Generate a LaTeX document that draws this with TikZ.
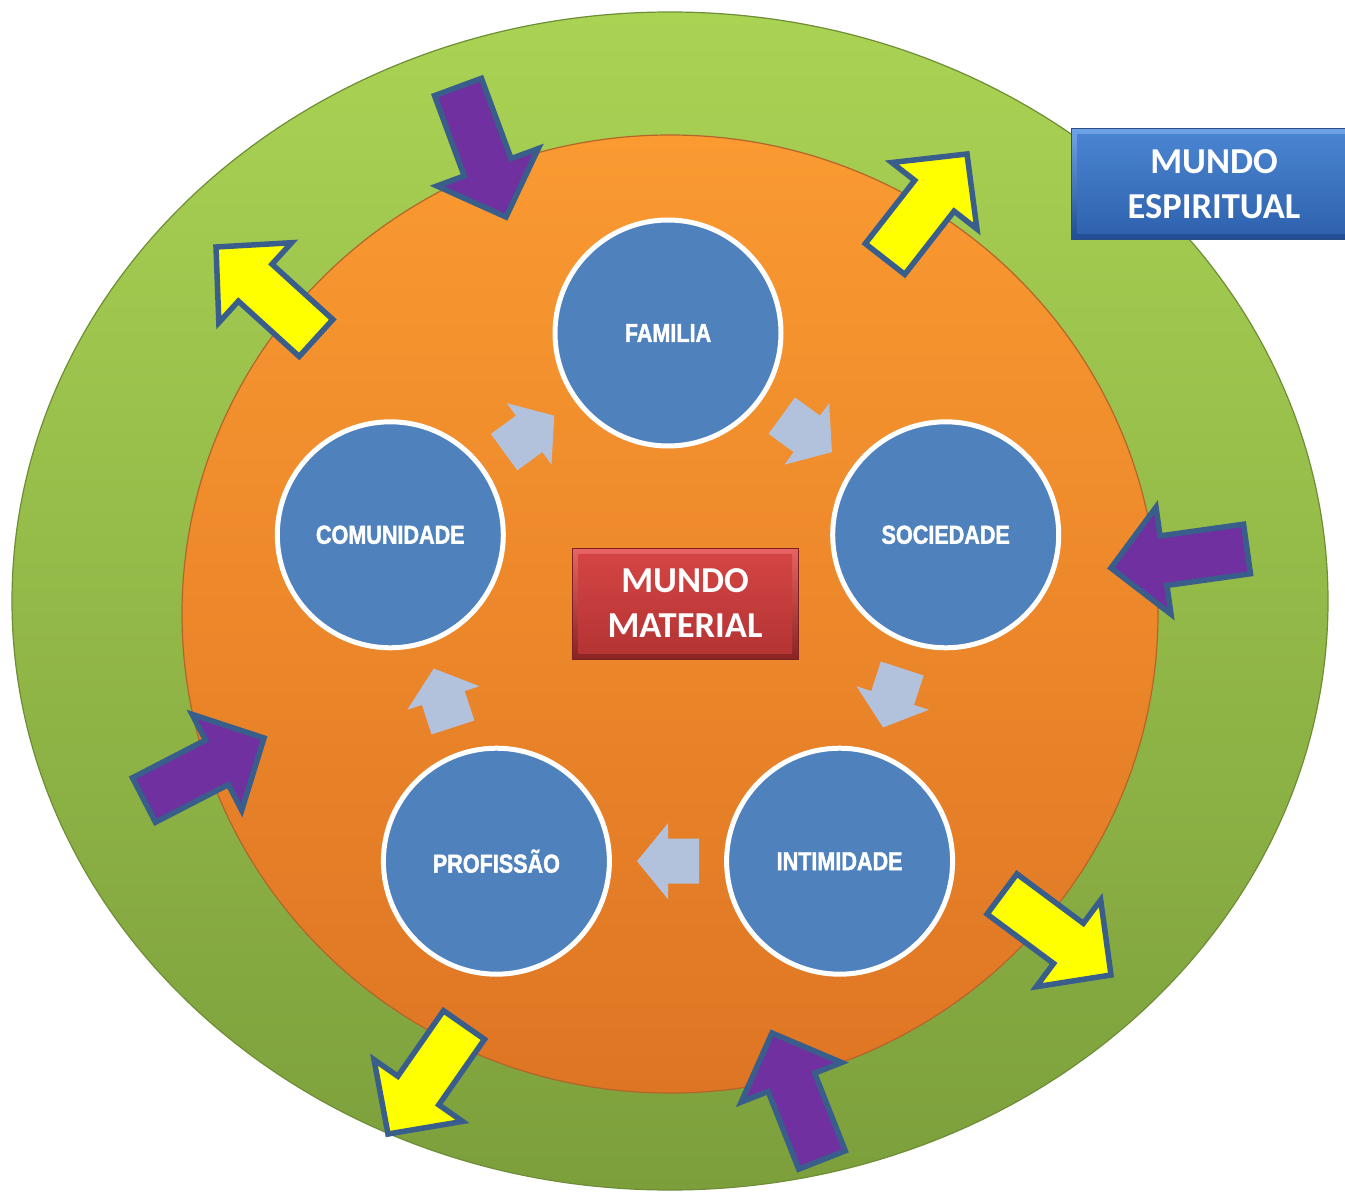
\documentclass[tikz,border=0pt]{standalone}
\usepackage{fontspec}
\usetikzlibrary{calc}
\newfontfamily\boxfont{Carlito}
\newfontfamily\circfont{Liberation Sans}[FakeStretch=0.83,FakeBold=1.6]
\definecolor{greentop}{HTML}{AAD354}
\definecolor{greenbot}{HTML}{7C9F3C}
\definecolor{greenedge}{HTML}{6E8E36}
\definecolor{orangetop}{HTML}{FA9A31}
\definecolor{orangebot}{HTML}{DE7524}
\definecolor{orangeedge}{HTML}{B3652A}
\definecolor{circblue}{HTML}{4F81BD}
\definecolor{cycblue}{HTML}{B2C2DD}
\definecolor{arrowedge}{HTML}{3A5E8C}
\definecolor{purplefill}{HTML}{7030A0}
\definecolor{yellowfill}{HTML}{FFFF00}
\definecolor{esptop}{HTML}{6FA3E8}
\definecolor{espbot}{HTML}{1F4C92}
\definecolor{espintop}{HTML}{4B86D2}
\definecolor{espinbot}{HTML}{2D60AC}
\definecolor{espedge}{HTML}{2B4F82}
\definecolor{mattop}{HTML}{E96363}
\definecolor{matbot}{HTML}{8A2323}
\definecolor{matintop}{HTML}{D64545}
\definecolor{matinbot}{HTML}{B33333}
\definecolor{matedge}{HTML}{7A2020}
% block arrow: #1 style, #2 tail mid, #3 tip, #4 shaft half width, #5 head half width, #6 head length
\newcommand\blkarrow[6]{%
  \path (#2) coordinate (bt) (#3) coordinate (bp);
  \coordinate (bb) at ($(bp)!#6!(bt)$);
  \path[#1] ($(bt)!#4!90:(bp)$) -- ($(bb)!#4!90:(bp)$) -- ($(bb)!#5!90:(bp)$) -- (bp)
    -- ($(bb)!#5!-90:(bp)$) -- ($(bb)!#4!-90:(bp)$) -- ($(bt)!#4!-90:(bp)$) -- cycle;}
% cycle arrow between two circle nodes
\newcommand\cycarrow[2]{%
  \coordinate (cm) at ($(#1.center)!0.5!(#2.center)$);
  \blkarrow{cycstyle}{$(cm)!31pt!(#1.center)$}{$(cm)!31pt!(#2.center)$}{22.5pt}{38pt}{31pt}}
\begin{document}
\begin{tikzpicture}[x=1pt,y=-1pt,
  inarrow/.style={fill=purplefill, draw=arrowedge, line width=5.5pt, line join=miter},
  outarrow/.style={fill=yellowfill, draw=arrowedge, line width=5.5pt, line join=miter},
  cycstyle/.style={fill=cycblue},
  stage/.style={circle, fill=circblue, draw=white, line width=5pt, minimum size=226pt,
    inner sep=0pt, text=white, font=\circfont\bfseries\fontsize{26}{30}\selectfont},
  bevelbox/.style n args={4}{rectangle, line width=1pt, top color=#1, bottom color=#2,
    text=white, align=center, inner sep=0pt,
    font=\boxfont\bfseries\fontsize{36.5}{45}\selectfont,
    path picture={\shade[top color=#3, bottom color=#4]
      ($(path picture bounding box.north west)+(6,6)$) rectangle
      ($(path picture bounding box.south east)+(-6,-6)$);}}
  ]
\useasboundingbox (0,0) rectangle (1345,1193);
\clip (0,0) rectangle (1345,1193);
\fill[white] (0,0) rectangle (1345,1193);
% outer world
\shade[top color=greentop, bottom color=greenbot] (670,601) ellipse [x radius=658pt, y radius=589pt];
\draw[greenedge, line width=1.2pt] (670,601) ellipse [x radius=658pt, y radius=589pt];
% inner world
\shade[top color=orangetop, bottom color=orangebot] (670,614) ellipse [x radius=488pt, y radius=479pt];
\draw[orangeedge, line width=1.2pt] (670,614) ellipse [x radius=488pt, y radius=479pt];
% big arrows inward (purple)
\blkarrow{inarrow}{458,87}{506,217}{25pt}{54pt}{53pt}
\blkarrow{inarrow}{1247,549}{1111,568}{25pt}{54pt}{53pt}
\blkarrow{inarrow}{822,1160}{772,1033}{25pt}{54pt}{53pt}
\blkarrow{inarrow}{144,800}{264,738}{25pt}{54pt}{53pt}
% big arrows outward (yellow)
\blkarrow{outarrow}{316,338}{216,247}{25pt}{54pt}{53pt}
\blkarrow{outarrow}{885,259}{967,154}{25pt}{54pt}{53pt}
\blkarrow{outarrow}{1002,894}{1111,975}{25pt}{54pt}{53pt}
\blkarrow{outarrow}{464,1025}{388,1134}{25pt}{54pt}{53pt}
% stages
\node[stage] (fam) at (668,333) {FAMILIA};
\node[stage] (soc) at (945.7,534.8) {SOCIEDADE};
\node[stage] (int) at (839.6,861.2) {INTIMIDADE};
\node[stage] (pro) at (496.4,861.2) {PROFISSÃO};
\node[stage] (com) at (390.3,534.8) {COMUNIDADE};
% cycle arrows
\cycarrow{fam}{soc}
\cycarrow{soc}{int}
\cycarrow{int}{pro}
\cycarrow{pro}{com}
\cycarrow{com}{fam}
% labels
\node[bevelbox={mattop}{matbot}{matintop}{matinbot}, draw=matedge,
  minimum width=226pt, minimum height=111pt] (mat) at (685,603.5) {MUNDO\\MATERIAL};
\node[bevelbox={esptop}{espbot}{espintop}{espinbot}, draw=espedge,
  minimum width=286pt, minimum height=111pt] (esp) at (1214,184.5) {MUNDO\\ESPIRITUAL};
\end{tikzpicture}
\end{document}
